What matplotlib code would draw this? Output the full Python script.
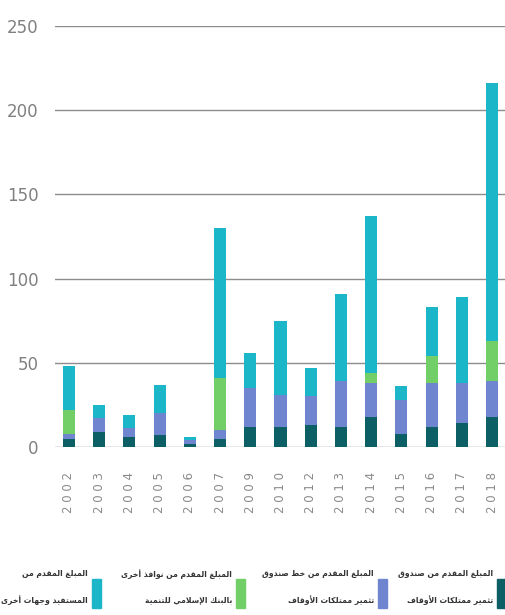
import matplotlib
matplotlib.use('Agg')
import matplotlib.pyplot as plt
import matplotlib.patches as mpatches
import numpy as np

# data
years = ['2002', '2003', '2004', '2005', '2006', '2007', '2009', '2010',
         '2012', '2013', '2014', '2015', '2016', '2017', '2018']
apif = [5, 9, 6, 7, 2, 5, 12, 12, 13, 12, 18, 8, 12, 14, 18]
apif_line = [3, 8, 5, 13, 2, 5, 23, 19, 17, 27, 20, 20, 26, 24, 21]
isdb_other = [14, 0, 0, 0, 0, 31, 0, 0, 0, 0, 6, 0, 16, 0, 24]
beneficiary = [26, 8, 8, 17, 2, 89, 21, 44, 17, 52, 93, 8, 29, 51, 153]

legend_labels = [
    ['المبلغ المقدم من صندوق', 'تثمير ممتلكات الأوقاف'],
    ['المبلغ المقدم من خط صندوق', 'تثمير ممتلكات الأوقاف'],
    ['المبلغ المقدم من نوافذ أخرى', 'بالبنك الإسلامي للتنمية'],
    ['المبلغ المقدم من', 'المستفيد وجهات أخرى'],
]
colors = ['#0d5f66', '#6f85cf', '#72cf68', '#1bb6c8']
yticks = [0, 50, 100, 150, 200, 250]

# --- tiny arabic shaper (matplotlib has no shaping / bidi) ---
letters = 'ءآأؤإئابةتثجحخدذرزسشصضطظعغفقكلمنهوىي'
counts = [1, 2, 2, 2, 2, 4, 2, 4, 2, 4, 4, 4, 4, 4, 2, 2, 2, 2, 4, 4, 4, 4,
          4, 4, 4, 4, 4, 4, 4, 4, 4, 4, 4, 2, 2, 4]
forms = {}
start = 0xFE80
for ch, n in zip(letters, counts):
    forms[ch] = (start, n)
    start += n
lam_alef = {'آ': 0xFEF5, 'أ': 0xFEF7, 'إ': 0xFEF9, 'ا': 0xFEFB}


def shape(text):
    toks = []
    i = 0
    while i < len(text):
        c = text[i]
        if c == 'ل' and i + 1 < len(text) and text[i + 1] in lam_alef:
            toks.append(('LA', lam_alef[text[i + 1]]))
            i += 2
        else:
            toks.append(('C', c))
            i += 1

    def is_ar(t):
        return t[0] == 'LA' or t[1] in forms

    def dual(t):
        return t[0] == 'C' and t[1] in forms and forms[t[1]][1] == 4

    out = []
    for k, t in enumerate(toks):
        if not is_ar(t):
            out.append(t[1])
            continue
        jp = k > 0 and dual(toks[k - 1])
        jn = dual(t) and k + 1 < len(toks) and is_ar(toks[k + 1])
        if t[0] == 'LA':
            out.append(chr(t[1] + (1 if jp else 0)))
            continue
        base, n = forms[t[1]]
        if n == 1:
            off = 0
        elif jp and jn:
            off = 3
        elif jp:
            off = 1
        elif jn and n == 4:
            off = 2
        else:
            off = 0
        out.append(chr(base + off))
    return ''.join(out)[::-1]


fig = plt.figure(figsize=(5.06, 6.15), dpi=100)
ax = fig.add_axes([55 / 506, 1 - 447 / 615, 451 / 506, 421 / 615])

x = np.arange(len(years))
bottom = np.zeros(len(years))
for vals, col in zip([apif, apif_line, isdb_other, beneficiary], colors):
    ax.bar(x, vals, width=0.4, bottom=bottom, color=col, zorder=3)
    bottom += np.array(vals)

ax.set_ylim(0, 250)
ax.set_xlim(-0.46, 14.46)
ax.set_yticks(yticks)
ax.set_yticklabels([str(v) for v in yticks], fontsize=12, color='#808080')
ax.set_xticks(x)
ax.set_xticklabels([' '.join(y) for y in years], rotation=90, fontsize=8.5,
                   color='#8a8a8a', va='top')
ax.tick_params(axis='y', length=0, pad=12)
ax.tick_params(axis='x', length=0, pad=18)
ax.grid(axis='y', color='#8c8c8c', linewidth=1, zorder=0)
for s in ax.spines.values():
    s.set_visible(False)

# legend, right to left
rect_x = [497, 378, 236, 92]
for lbl, col, rx in zip(legend_labels, colors, rect_x):
    fig.patches.append(mpatches.Rectangle((rx / 506, 1 - 608 / 615), 9 / 506, 29 / 615,
                                          color=col, transform=fig.transFigure))
    fig.text((rx - 4) / 506, 1 - 574 / 615, shape(lbl[0]), ha='right', va='center',
             fontsize=5.5, fontweight='bold', color='#333333', family='DejaVu Sans')
    fig.text((rx - 4) / 506, 1 - 600 / 615, shape(lbl[1]), ha='right', va='center',
             fontsize=5.5, fontweight='bold', color='#333333', family='DejaVu Sans')

fig.savefig('out.png', dpi=100)
